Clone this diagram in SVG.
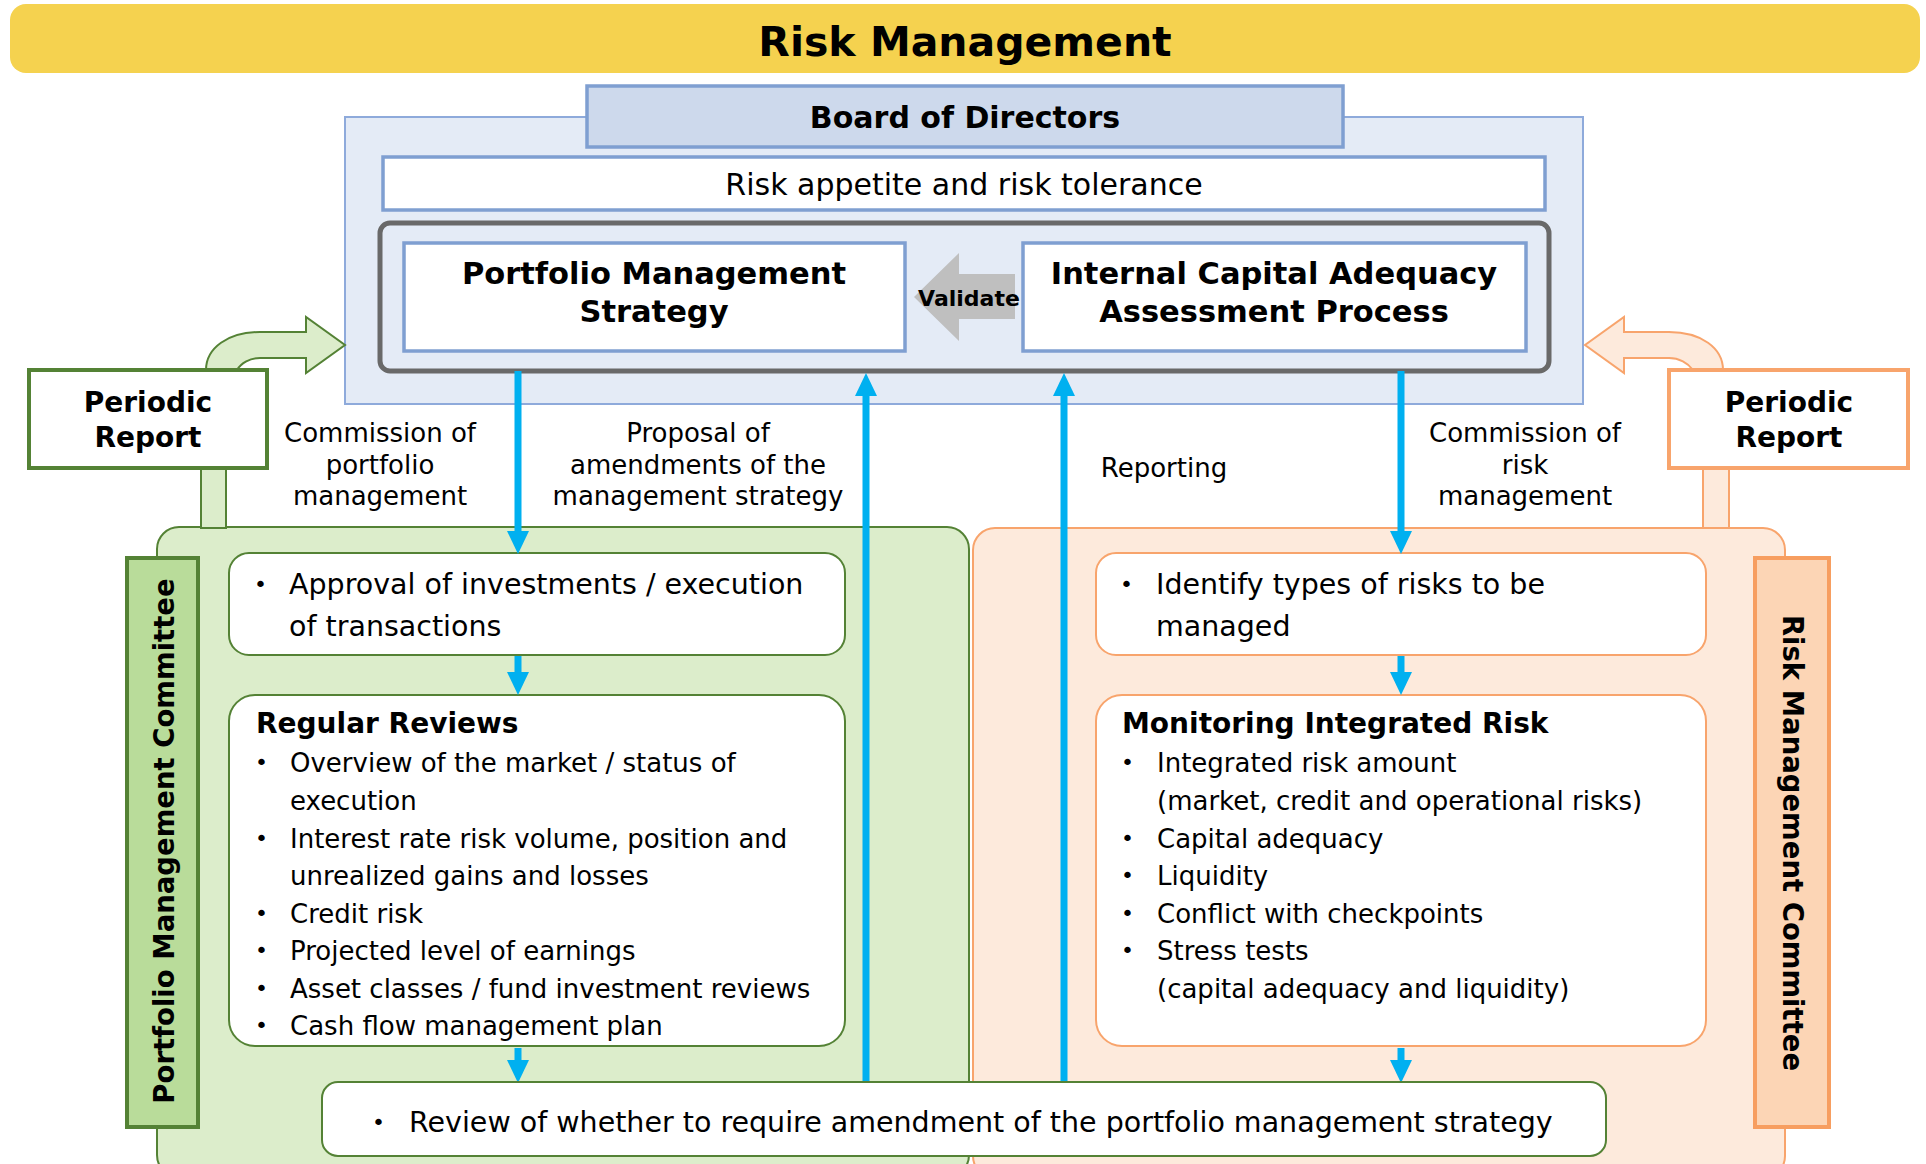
<svg xmlns="http://www.w3.org/2000/svg" width="1926" height="1164" viewBox="0 0 1926 1164">
<defs>
<style>
text{font-family:"DejaVu Sans","Liberation Sans",sans-serif;fill:#000}
.b{font-weight:bold}
.t26{font-size:26px}
.t28{font-size:28.5px}
.bu{font-size:22px}
.hd{font-size:28px;font-weight:bold}
.blu{fill:none;stroke:#00B0F0;stroke-width:7;marker-end:url(#ah)}
.wg{fill:#fff;stroke:#548235;stroke-width:2}
.wo{fill:#fff;stroke:#F8A46C;stroke-width:2}
.wb{fill:#fff;stroke:#7F9FD1;stroke-width:3.5}
.mid{text-anchor:middle}
</style>
<marker id="ah" markerUnits="userSpaceOnUse" markerWidth="23" markerHeight="22" refX="0" refY="11" orient="auto" overflow="visible">
<path d="M0,0 L23,11 L0,22 z" fill="#00B0F0"/>
</marker>
</defs>

<g id="title">
<rect x="10" y="4" width="1910" height="69" rx="16" fill="#F5D24F"/>
<text x="965" y="56" class="b mid" font-size="41">Risk Management</text>
</g>

<g id="panels">
<rect id="pmc-panel" x="157" y="527" width="812" height="650" rx="22" fill="#DCEDCB" stroke="#548235" stroke-width="2"/>
<rect id="rmc-panel" x="973" y="528" width="812" height="650" rx="22" fill="#FDEADC" stroke="#F8A46C" stroke-width="2"/>
</g>

<g id="board">
<rect x="345" y="117" width="1238" height="287" fill="#E4EBF6" stroke="#8EAADB" stroke-width="2"/>
<rect x="587" y="86" width="756" height="61" fill="#CDD9EC" stroke="#7F9FD1" stroke-width="3.5"/>
<text x="965" y="128" class="b mid" font-size="30">Board of Directors</text>
</g>

<g id="risk-appetite">
<rect x="383" y="157" width="1162" height="53" class="wb"/>
<text x="964" y="195" class="mid" font-size="30">Risk appetite and risk tolerance</text>
</g>

<g id="strategy-group">
<rect x="380" y="223" width="1169" height="148" rx="10" fill="none" stroke="#696969" stroke-width="5"/>
</g>

<g id="pms">
<rect x="404" y="243" width="501" height="108" class="wb"/>
<text x="654" y="284" class="b mid" font-size="30.5">Portfolio Management</text>
<text x="654" y="322" class="b mid" font-size="30.5">Strategy</text>
</g>

<g id="icaap">
<rect x="1023" y="243" width="503" height="108" class="wb"/>
<text x="1274" y="284" class="b mid" font-size="30.5">Internal Capital Adequacy</text>
<text x="1274" y="322" class="b mid" font-size="30.5">Assessment Process</text>
</g>

<g id="validate">
<polygon points="914,297 959,253 959,274 1015,274 1015,319 959,319 959,341" fill="#BFBFBF"/>
<text x="969" y="306" class="b mid" font-size="22">Validate</text>
</g>

<g id="periodic-left">
<rect x="201" y="466" width="25" height="62" fill="#DCEDCB" stroke="#548235" stroke-width="2"/>
<path d="M206,370 C206,348 228,332 260,332 L306,332 L306,317 L345,345 L306,373 L306,358 L260,358 C250,358 241,363 237,370 Z" fill="#DCEDCB" stroke="#548235" stroke-width="2"/>
<rect x="29" y="370" width="238" height="98" fill="#fff" stroke="#548235" stroke-width="4"/>
<text x="148" y="412" class="hd mid">Periodic</text>
<text x="148" y="447" class="hd mid">Report</text>
</g>

<g id="periodic-right">
<rect x="1703" y="466" width="26" height="62" fill="#FDEADC" stroke="#F8A46C" stroke-width="2"/>
<path d="M1723,370 C1723,348 1701,332 1669,332 L1624,332 L1624,317 L1585,345 L1624,373 L1624,358 L1669,358 C1679,358 1688,363 1693,370 Z" fill="#FDEADC" stroke="#F8A46C" stroke-width="2"/>
<rect x="1669" y="370" width="239" height="98" fill="#fff" stroke="#F8A46C" stroke-width="4"/>
<text x="1789" y="412" class="hd mid">Periodic</text>
<text x="1789" y="447" class="hd mid">Report</text>
</g>

<g id="pmc-label">
<rect x="127" y="558" width="71" height="569" fill="#B9DC9A" stroke="#548235" stroke-width="4"/>
<text transform="translate(174,841) rotate(-90)" class="mid" font-size="27.5" font-weight="bold">Portfolio Management Committee</text>
</g>

<g id="rmc-label">
<rect x="1755" y="558" width="74" height="569" fill="#FCD5B5" stroke="#F79E60" stroke-width="4"/>
<text transform="translate(1783,843) rotate(90)" class="mid" font-size="27.5" font-weight="bold">Risk Management Committee</text>
</g>

<g id="approval">
<rect x="229" y="553" width="616" height="102" rx="20" class="wg"/>
<text x="254" y="592" class="bu">•</text>
<text x="289" y="594" class="t28">Approval of investments / execution</text>
<text x="289" y="636" class="t28">of transactions</text>
</g>

<g id="regular-reviews">
<rect x="229" y="695" width="616" height="351" rx="26" class="wg"/>
<text x="256" y="733" class="hd">Regular Reviews</text>
<g class="t26">
<text x="255" y="770" class="bu">•</text><text x="290" y="772">Overview of the market / status of</text>
<text x="290" y="810">execution</text>
<text x="255" y="846" class="bu">•</text><text x="290" y="848">Interest rate risk volume, position and</text>
<text x="290" y="885">unrealized gains and losses</text>
<text x="255" y="921" class="bu">•</text><text x="290" y="923">Credit risk</text>
<text x="255" y="958" class="bu">•</text><text x="290" y="960">Projected level of earnings</text>
<text x="255" y="996" class="bu">•</text><text x="290" y="998">Asset classes / fund investment reviews</text>
<text x="255" y="1033" class="bu">•</text><text x="290" y="1035">Cash flow management plan</text>
</g>
</g>

<g id="identify">
<rect x="1096" y="553" width="610" height="102" rx="20" class="wo"/>
<text x="1120" y="592" class="bu">•</text>
<text x="1156" y="594" class="t28">Identify types of risks to be</text>
<text x="1156" y="636" class="t28">managed</text>
</g>

<g id="monitoring">
<rect x="1096" y="695" width="610" height="351" rx="26" class="wo"/>
<text x="1122" y="733" class="hd">Monitoring Integrated Risk</text>
<g class="t26">
<text x="1121" y="770" class="bu">•</text><text x="1157" y="772">Integrated risk amount</text>
<text x="1157" y="810">(market, credit and operational risks)</text>
<text x="1121" y="846" class="bu">•</text><text x="1157" y="848">Capital adequacy</text>
<text x="1121" y="883" class="bu">•</text><text x="1157" y="885">Liquidity</text>
<text x="1121" y="921" class="bu">•</text><text x="1157" y="923">Conflict with checkpoints</text>
<text x="1121" y="958" class="bu">•</text><text x="1157" y="960">Stress tests</text>
<text x="1157" y="998">(capital adequacy and liquidity)</text>
</g>
</g>

<g id="connectors">
<path class="blu" d="M518,371 L518,531"/>
<path class="blu" d="M866,1083 L866,396"/>
<path class="blu" d="M1064,1083 L1064,396"/>
<path class="blu" d="M1401,371 L1401,531"/>
<path class="blu" d="M518,656 L518,672"/>
<path class="blu" d="M518,1048 L518,1060"/>
<path class="blu" d="M1401,656 L1401,672"/>
<path class="blu" d="M1401,1048 L1401,1060"/>
</g>

<g id="review">
<rect x="322" y="1082" width="1284" height="74" rx="16" class="wg"/>
<text x="372" y="1130" class="bu">•</text>
<text x="409" y="1132" class="t28">Review of whether to require amendment of the portfolio management strategy</text>
</g>

<g id="labels" class="t26">
<text x="380" y="442" class="mid">Commission of</text>
<text x="380" y="474" class="mid">portfolio</text>
<text x="380" y="505" class="mid">management</text>
<text x="698" y="442" class="mid">Proposal of</text>
<text x="698" y="474" class="mid">amendments of the</text>
<text x="698" y="505" class="mid">management strategy</text>
<text x="1164" y="477" class="mid">Reporting</text>
<text x="1525" y="442" class="mid">Commission of</text>
<text x="1525" y="474" class="mid">risk</text>
<text x="1525" y="505" class="mid">management</text>
</g>
</svg>
